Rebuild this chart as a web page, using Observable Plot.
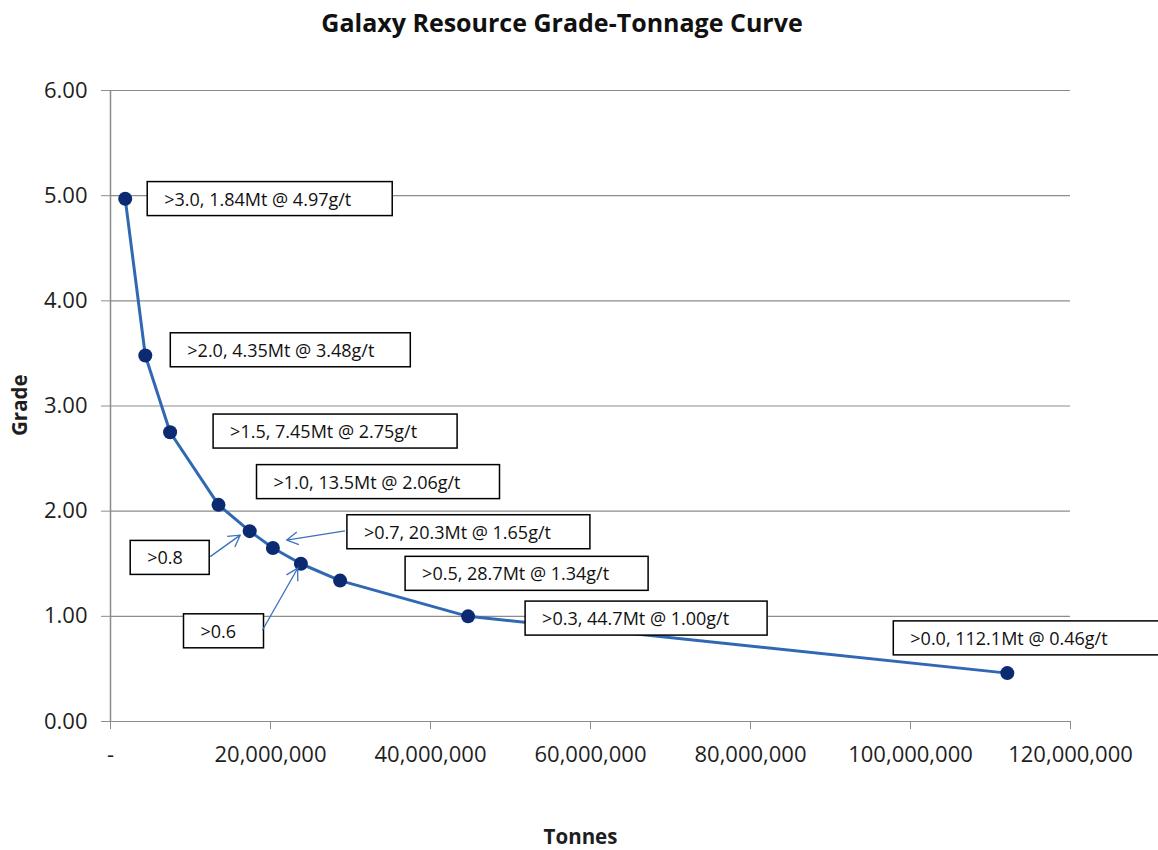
<!DOCTYPE html>
<html><head><meta charset="utf-8">
<script src="https://cdn.jsdelivr.net/npm/d3@7"></script>
<script src="https://cdn.jsdelivr.net/npm/@observablehq/plot@0.6"></script>
<style>
body{margin:0;background:#fff;font-family:"Open Sans",sans-serif;}
#title{width:1158px;height:45px;line-height:45px;text-align:center;padding-right:34px;box-sizing:border-box;font-weight:bold;font-size:25px;color:#111;}
#chart svg{display:block;overflow:hidden;}
</style></head><body>
<div id="title">Galaxy Resource Grade-Tonnage Curve</div>
<div id="chart"></div>
<script>
// ---- data ----
const cutoffs = [">3.0", ">2.0", ">1.5", ">1.0", ">0.8", ">0.7", ">0.6", ">0.5", ">0.3", ">0.0"];
const tonnes = [1840000, 4350000, 7450000, 13500000, 17400000, 20300000, 23800000, 28700000, 44700000, 112100000];
const grades = [4.97, 3.48, 2.75, 2.06, 1.81, 1.65, 1.50, 1.34, 1.00, 0.46];
const labels = [
  ">3.0, 1.84Mt @ 4.97g/t",
  ">2.0, 4.35Mt @ 3.48g/t",
  ">1.5, 7.45Mt @ 2.75g/t",
  ">1.0, 13.5Mt @ 2.06g/t",
  ">0.8",
  ">0.7, 20.3Mt @ 1.65g/t",
  ">0.6",
  ">0.5, 28.7Mt @ 1.34g/t",
  ">0.3, 44.7Mt @ 1.00g/t",
  ">0.0, 112.1Mt @ 0.46g/t"
];
const yTicks = [0, 1, 2, 3, 4, 5, 6];
const xTicks = [0, 20000000, 40000000, 60000000, 80000000, 100000000, 120000000];

// ---- annotation layout (pixel offsets from each point) ----
const labelOffsets = [[39,1],[42,-4.5],[60,0],[55,-22],[-102.5,27.5],[91,-15],[-100.4,68.3],[82,-6],[74,3],[-97,-34]];
const boxWidths = [245,240,244,243,79,243,80,243,242,270];
const arrowLayout = [
  {i:4, s:[-39,26], e:[-9,4.5]},
  {i:5, s:[72.6,-16.7], e:[14.3,-7.4]},
  {i:6, s:[-38,67], e:[-2.7,5]}
];

const data = tonnes.map((t,i)=>({t, g:grades[i], cutoff:cutoffs[i], label:labels[i]}));

const FONT = "'Open Sans',sans-serif";
const GRID = "#8c8c8c";
const TXT = "#1e1e1e";

const plot = Plot.plot({
  width:1158, height:805,
  marginTop:45, marginLeft:110, marginRight:88, marginBottom:129,
  style:{fontFamily:FONT, background:"#fff", color:TXT},
  x:{domain:[0,120000000]},
  y:{domain:[0,6]},
  marks:[
    Plot.ruleY(yTicks, {stroke:GRID, strokeWidth:1.2}),
    Plot.ruleX([0], {stroke:GRID, strokeWidth:1.5}),
    Plot.axisY({ticks:yTicks, tickFormat:d3.format(".2f"), tickSize:9, tickPadding:14, fontSize:22, stroke:GRID, fill:TXT, label:null}),
    Plot.axisX({ticks:xTicks, tickFormat:d=>d===0?"-":d3.format(",")(d), tickSize:8, tickPadding:17, fontSize:22, stroke:GRID, fill:TXT, label:null}),
    Plot.line(data, {x:"t", y:"g", stroke:"#3068b4", strokeWidth:3}),
    Plot.dot(data, {x:"t", y:"g", r:7, fill:"#0b2a72", stroke:"none"}),
    ...data.map((d,i)=>Plot.text([d], {x:"t", y:"g", text:"label", textAnchor:"start", dx:labelOffsets[i][0], dy:labelOffsets[i][1], fontSize:18, fill:"#111", className:"lbl"})),
    Plot.text(["Tonnes"], {text:d=>d, frameAnchor:"bottom", dx:-10, dy:122, fontSize:20.5, fontWeight:"bold", fill:TXT}),
    Plot.text(["Grade"], {text:d=>d, frameAnchor:"left", rotate:-90, dx:-90, dy:30, fontSize:20.5, fontWeight:"bold", fill:TXT})
  ]
});
document.getElementById("chart").appendChild(plot);

// boxes behind labels
const svg = d3.select(plot);
const sRect = plot.getBoundingClientRect();
const lblGroups = plot.querySelectorAll("g.lbl");
const boxG = document.createElementNS("http://www.w3.org/2000/svg","g");
lblGroups[0].parentNode.insertBefore(boxG, lblGroups[0]);
lblGroups.forEach((g,i)=>{
  const t = g.querySelector("text");
  const r = t.getBoundingClientRect();
  const cy = r.top - sRect.top + r.height/2;
  const x0 = r.left - sRect.left - 17;
  d3.select(boxG).append("rect")
    .attr("x", x0).attr("y", cy-17).attr("width", boxWidths[i]).attr("height", 34)
    .attr("fill","#fff").attr("stroke","#000").attr("stroke-width",1.5);
});

// arrows
const xs = plot.scale("x"), ys = plot.scale("y");
const arrG = svg.append("g").attr("fill","none").attr("stroke","#3a72bd").attr("stroke-width",1.3);
arrowLayout.forEach(a=>{
  const px = xs.apply(tonnes[a.i]), py = ys.apply(grades[a.i]);
  const sx = px+a.s[0], sy = py+a.s[1], ex = px+a.e[0], ey = py+a.e[1];
  const ang = Math.atan2(ey-sy, ex-sx), L = 13, w = Math.PI/6;
  const h1 = [ex - L*Math.cos(ang-w), ey - L*Math.sin(ang-w)];
  const h2 = [ex - L*Math.cos(ang+w), ey - L*Math.sin(ang+w)];
  arrG.append("path").attr("d", `M${sx},${sy}L${ex},${ey}M${h1[0]},${h1[1]}L${ex},${ey}L${h2[0]},${h2[1]}`);
});
</script>
</body></html>
